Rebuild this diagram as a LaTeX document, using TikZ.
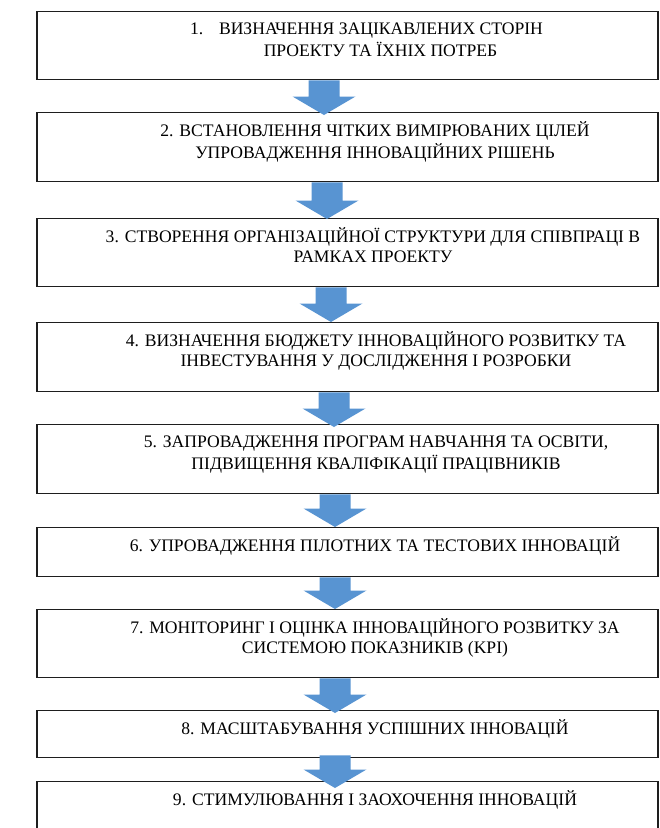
\documentclass[tikz,border=0pt]{standalone}
\usepackage{fontspec}
\setmainfont{Liberation Serif}
\usetikzlibrary{calc}
\definecolor{arrowblue}{RGB}{88,148,210}
\definecolor{boxline}{RGB}{30,30,30}
\tikzset{
  stagebox/.style={draw=boxline, line width=1.4pt, minimum width=621pt, inner sep=0pt, anchor=north},
  stagetext/.style={anchor=north, inner sep=0pt, align=center, font=\fontsize{17.6}{20}\selectfont},
  blockarrow/.style={fill=arrowblue, to path={let \p1=(\tikztostart), \p2=(\tikztotarget) in
    (\x1-15.5pt,\y1) -- (\x1+15.5pt,\y1) -- (\x1+15.5pt,\y2+18.5pt) -- (\x1+31.5pt,\y2+18.5pt)
    -- (\x1,\y2) -- (\x1-31.5pt,\y2+18.5pt) -- (\x1-15.5pt,\y2+18.5pt) -- cycle}}
}
\begin{document}
\begin{tikzpicture}[x=1pt, y=-1pt]
  \clip (0,0) rectangle (660,828);
  \fill[white] (0,0) rectangle (660,828);
  \node[stagebox, minimum height=68pt] (box1) at (347.5,11) {};
  \node[stagebox, minimum height=69pt] (box2) at (347.5,112) {};
  \node[stagebox, minimum height=68pt] (box3) at (347.5,218) {};
  \node[stagebox, minimum height=69pt] (box4) at (347.5,322) {};
  \node[stagebox, minimum height=69pt] (box5) at (347.5,424) {};
  \node[stagebox, minimum height=49pt] (box6) at (347.5,527) {};
  \node[stagebox, minimum height=68pt] (box7) at (347.5,609) {};
  \node[stagebox, minimum height=47pt] (box8) at (347.5,710) {};
  \node[stagebox, minimum height=69pt] (box9) at (347.5,781) {};
  \node[stagetext] (txt1) at ($(box1.north)+(19,9.5)$) {\strut 1.\hspace{0.9em}ВИЗНАЧЕННЯ ЗАЦІКАВЛЕНИХ СТОРІН\\ \hspace{1.6em}ПРОЕКТУ ТА ЇХНІХ ПОТРЕБ};
  \node[stagetext] (txt2) at ($(box2.north)+(27.5,9.5)$) {\strut 2. ВСТАНОВЛЕННЯ ЧІТКИХ ВИМІРЮВАНИХ ЦІЛЕЙ\\УПРОВАДЖЕННЯ ІННОВАЦІЙНИХ РІШЕНЬ};
  \node[stagetext] (txt3) at ($(box3.north)+(25.5,9.5)$) {\strut 3. СТВОРЕННЯ ОРГАНІЗАЦІЙНОЇ СТРУКТУРИ ДЛЯ СПІВПРАЦІ В\\РАМКАХ ПРОЕКТУ};
  \node[stagetext] (txt4) at ($(box4.north)+(28.5,9.5)$) {\strut 4. ВИЗНАЧЕННЯ БЮДЖЕТУ ІННОВАЦІЙНОГО РОЗВИТКУ ТА\\ІНВЕСТУВАННЯ У ДОСЛІДЖЕННЯ І РОЗРОБКИ};
  \node[stagetext] (txt5) at ($(box5.north)+(28.5,9.5)$) {\strut 5. ЗАПРОВАДЖЕННЯ ПРОГРАМ НАВЧАННЯ ТА ОСВІТИ,\\ПІДВИЩЕННЯ КВАЛІФІКАЦІЇ ПРАЦІВНИКІВ};
  \node[stagetext] (txt6) at ($(box6.north)+(27.5,9.5)$) {\strut 6. УПРОВАДЖЕННЯ ПІЛОТНИХ ТА ТЕСТОВИХ ІННОВАЦІЙ};
  \node[stagetext] (txt7) at ($(box7.north)+(27.5,9.5)$) {\strut 7. МОНІТОРИНГ І ОЦІНКА ІННОВАЦІЙНОГО РОЗВИТКУ ЗА\\СИСТЕМОЮ ПОКАЗНИКІВ (KPI)};
  \node[stagetext] (txt8) at ($(box8.north)+(27.5,9.5)$) {\strut 8. МАСШТАБУВАННЯ УСПІШНИХ ІННОВАЦІЙ};
  \node[stagetext] (txt9) at ($(box9.north)+(27.5,9.5)$) {\strut 9. СТИМУЛЮВАННЯ І ЗАОХОЧЕННЯ ІННОВАЦІЙ};
  \path[blockarrow] ($(box1.south)+(-23.5,0)$) to ($(box2.north)+(-23.5,3)$);
  \path[blockarrow] ($(box2.south)+(-20.5,0)$) to ($(box3.north)+(-20.5,1)$);
  \path[blockarrow] ($(box3.south)+(-16.5,0)$) to ($(box4.north)+(-16.5,0)$);
  \path[blockarrow] ($(box4.south)+(-13.5,0)$) to ($(box5.north)+(-13.5,3)$);
  \path[blockarrow] ($(box5.south)+(-12.5,0)$) to ($(box6.north)+(-12.5,0)$);
  \path[blockarrow] ($(box6.south)+(-12.5,0)$) to ($(box7.north)+(-12.5,0)$);
  \path[blockarrow] ($(box7.south)+(-12.5,0)$) to ($(box8.north)+(-12.5,3)$);
  \path[blockarrow] ($(box8.south)+(-12.5,-3)$) to ($(box9.north)+(-12.5,7)$);
\end{tikzpicture}
\end{document}
